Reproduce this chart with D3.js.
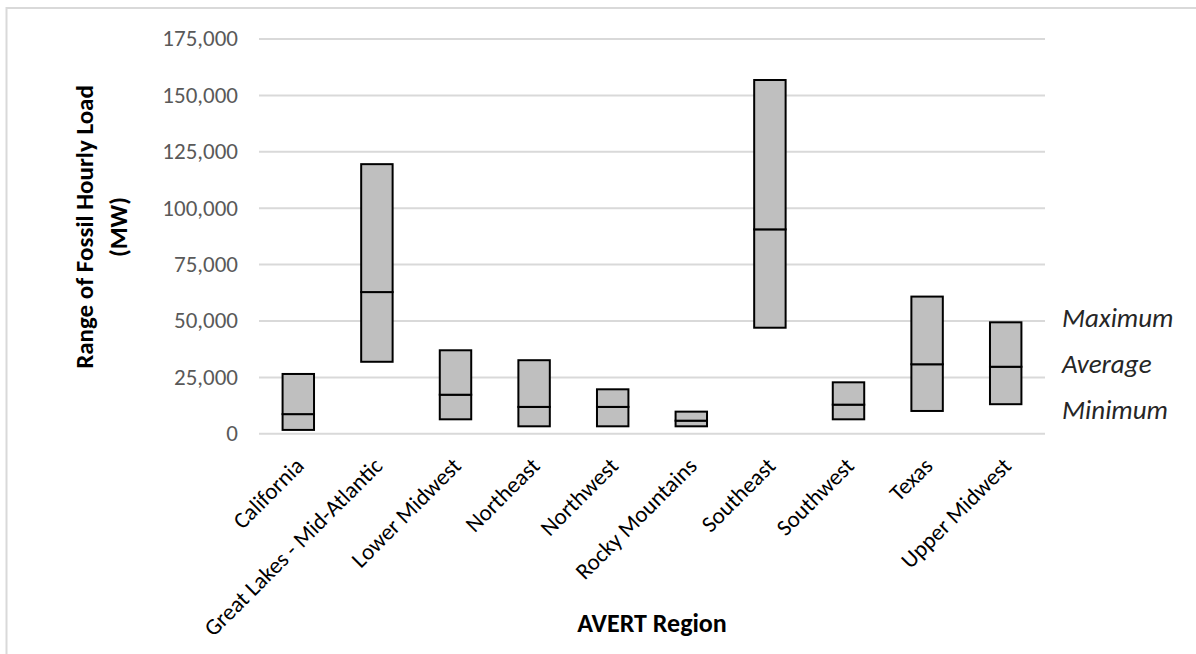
<!DOCTYPE html>
<html>
<head>
<meta charset="utf-8">
<script src="https://cdn.jsdelivr.net/npm/d3@7"></script>
<style>
  html, body { margin: 0; padding: 0; background: #fff; }
  svg { display: block; }
</style>
</head>
<body>
<svg id="chart" width="1196" height="654"></svg>
<script>
const categories = ["California", "Great Lakes - Mid-Atlantic", "Lower Midwest", "Northeast", "Northwest",
  "Rocky Mountains", "Southeast", "Southwest", "Texas", "Upper Midwest"];
const minimum = [1500, 31700, 6200, 3100, 3100, 3100, 46800, 6200, 9900, 12900];
const average = [8500, 62600, 17100, 11700, 11700, 5600, 90400, 12700, 30600, 29500];
const maximum = [26300, 119300, 36800, 32400, 19500, 9600, 156600, 22600, 60600, 49200];
const yTicks = [0, 25000, 50000, 75000, 100000, 125000, 150000, 175000];
const legendLabels = ["Maximum", "Average", "Minimum"];

(function () {
const FONT = "Carlito, Calibri, Lato, sans-serif";
const svg = d3.select("#chart");

// outer frame
svg.append("rect").attr("x", 6.5).attr("y", 8).attr("width", 1300).attr("height", 700)
  .attr("fill", "none").attr("stroke", "#d9d9d9").attr("stroke-width", 2);

const pLeft = 259, pRight = 1045, pTop = 38.5, pBottom = 433.3;

const x = d3.scaleBand().domain(categories).range([pLeft, pRight]).paddingInner(0.6).paddingOuter(0.3);
const y = d3.scaleLinear().domain([0, 175000]).range([pBottom, pTop]);

// gridlines + y tick labels
const yAxis = d3.axisLeft(y).tickValues(yTicks).tickFormat(d3.format(",")).tickSize(-(pRight - pLeft)).tickPadding(21);
const gy = svg.append("g").attr("transform", `translate(${pLeft},0)`).call(yAxis);
gy.select(".domain").remove();
gy.selectAll(".tick line").attr("stroke", "#d9d9d9").attr("stroke-width", 2);
gy.selectAll(".tick text").attr("fill", "#595959").style("font-family", FONT).style("font-size", "23px");

// bars: lower (min->avg) and upper (avg->max)
const data = categories.map((c, i) => ({ c, min: minimum[i], avg: average[i], max: maximum[i] }));
const g = svg.append("g");
g.selectAll("rect.lower").data(data).join("rect").attr("class", "lower")
  .attr("x", d => x(d.c)).attr("width", x.bandwidth())
  .attr("y", d => y(d.avg)).attr("height", d => y(d.min) - y(d.avg))
  .attr("fill", "#bfbfbf").attr("stroke", "#000").attr("stroke-width", 2);
g.selectAll("rect.upper").data(data).join("rect").attr("class", "upper")
  .attr("x", d => x(d.c)).attr("width", x.bandwidth())
  .attr("y", d => y(d.max)).attr("height", d => y(d.avg) - y(d.max))
  .attr("fill", "#bfbfbf").attr("stroke", "#000").attr("stroke-width", 2);

// x labels
const gx = svg.append("g").attr("transform", `translate(0,${pBottom})`)
  .call(d3.axisBottom(x).tickSize(0).tickPadding(0));
gx.select(".domain").remove();
gx.selectAll(".tick text")
  .attr("text-anchor", "end")
  .attr("dy", 0).attr("y", 0)
  .attr("transform", "translate(7,34) rotate(-45)")
  .attr("fill", "#000")
  .style("font-family", FONT).style("font-size", "23px");

// axis titles
svg.append("text").attr("x", 652).attr("y", 632).attr("text-anchor", "middle")
  .style("font-family", FONT).style("font-size", "26px").style("font-weight", "bold").attr("fill", "#000")
  .text("AVERT Region");

const yt = svg.append("text").attr("transform", "translate(93,227) rotate(-90)").attr("text-anchor", "middle")
  .style("font-family", FONT).style("font-size", "25px").style("font-weight", "bold").attr("fill", "#000");
yt.append("tspan").attr("x", 0).attr("dy", 0).text("Range of Fossil Hourly Load");
yt.append("tspan").attr("x", 0).attr("dy", 34).text("(MW)");

// legend labels
const legendY = [327, 373, 419];
svg.selectAll("text.leg").data(legendLabels).join("text").attr("class", "leg")
  .attr("x", 1062).attr("y", (d, i) => legendY[i])
  .style("font-family", FONT).style("font-size", "27px").style("font-style", "italic").attr("fill", "#262626")
  .text(d => d);
})();
</script>
</body>
</html>
